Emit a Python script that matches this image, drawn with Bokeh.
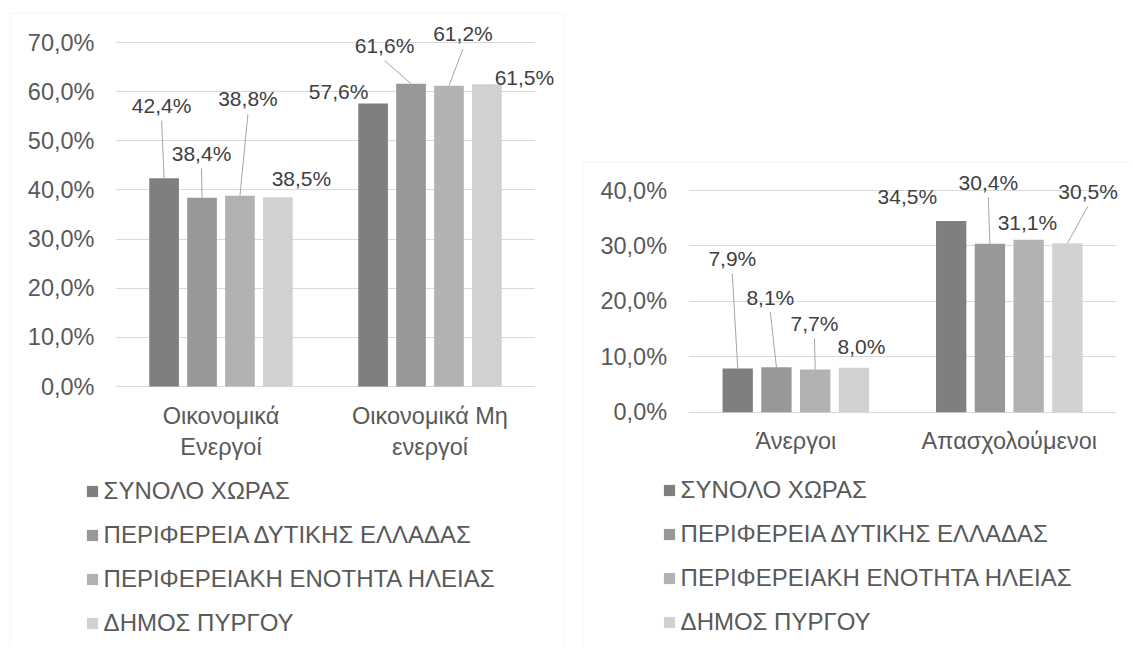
from bokeh.plotting import figure
from bokeh.models import (ColumnDataSource, Legend, LegendItem, BoxAnnotation,
                          FixedTicker, Range1d, LinearAxis)
from bokeh.core.properties import value
from bokeh.embed import file_html
from bokeh.resources import INLINE

# ---------------- data ----------------
series = ["ΣΥΝΟΛΟ ΧΩΡΑΣ", "ΠΕΡΙΦΕΡΕΙΑ ΔΥΤΙΚΗΣ ΕΛΛΑΔΑΣ",
          "ΠΕΡΙΦΕΡΕΙΑΚΗ ΕΝΟΤΗΤΑ ΗΛΕΙΑΣ", "ΔΗΜΟΣ ΠΥΡΓΟΥ"]

left_categories = ["Οικονομικά\nΕνεργοί", "Οικονομικά Μη\nενεργοί"]
left_total = [42.4, 57.6]
left_west = [38.4, 61.6]
left_ilia = [38.8, 61.2]
left_pyrgos = [38.5, 61.5]
left_ticks = [0, 10, 20, 30, 40, 50, 60, 70]
left_tick_labels = ["0,0%", "10,0%", "20,0%", "30,0%", "40,0%", "50,0%", "60,0%", "70,0%"]

right_categories = ["Άνεργοι", "Απασχολούμενοι"]
right_total = [7.9, 34.5]
right_west = [8.1, 30.4]
right_ilia = [7.7, 31.1]
right_pyrgos = [8.0, 30.5]
right_ticks = [0, 10, 20, 30, 40]
right_tick_labels = ["0,0%", "10,0%", "20,0%", "30,0%", "40,0%"]

# ---------------- style / layout ----------------
W, H = 1130, 645
colors = ["#7f7f7f", "#989898", "#b2b2b2", "#d1d1d1"]
FONT = "Liberation Sans"
AX_SIZE = "23.5px"
LEG_SIZE = "24px"
LBL_SIZE = "21px"
AX_COLOR = "#595959"
LBL_COLOR = "#404040"
GRID = "#d9d9d9"
LEADER = "#a6a6a6"
STEP = 0.1815
BAR_W = 0.142
ITEM_H = 26
ITEM_SP = 16

# label offsets in px (dx right, dy up) from the top centre of each bar; leader flags
left_label_dx = [[-2.5, -0.5, 8, 23.5], [-34.5, -26.5, 14, 37.5]]
left_label_dy = [[72.6, 44.3, 97, 19.1], [12.2, 38.3, 51.9, 6.5]]
left_leader = [[1, 1, 1, 0], [0, 1, 1, 0]]
right_label_dx = [[-5.4, -6.1, -0.7, 7.6], [-43.8, -1.6, -1.2, 20.7]]
right_label_dy = [[109.9, 70.1, 46.3, 21.4], [24.5, 61.5, 17.6, 52]]
right_leader = [[1, 1, 1, 0], [0, 1, 0, 1]]


def fmt(v):
    return f"{v:.1f}".replace(".", ",") + "%"


p = figure(width=W, height=H, x_range=Range1d(0, W), y_range=Range1d(H, 0),
           x_axis_location=None, y_axis_location=None, min_border=0,
           output_backend="svg", toolbar_location=None)
p.outline_line_color = None
p.background_fill_color = "white"
p.border_fill_color = "white"
for g in p.grid:
    g.visible = False

extra_x = {}
extra_y = {}


def add_chart(name, cats, vals, ticks, tick_labels, plot_l, plot_r, y0_px, ytop_px,
              label_dx, label_dy, leader, legend_left, legend_top, border):
    xn, yn = name + "_x", name + "_y"
    ux = 2.0 / (plot_r - plot_l)                # x data units per pixel
    ppp = (y0_px - ytop_px) / float(ticks[-1])  # pixels per percent
    extra_x[xn] = Range1d(-plot_l * ux, (W - plot_l) * ux)
    extra_y[yn] = Range1d(-(H - y0_px) / ppp, y0_px / ppp)

    yax = LinearAxis(x_range_name=xn, y_range_name=yn, fixed_location=0,
                     ticker=FixedTicker(ticks=ticks),
                     major_label_overrides={float(t): s for t, s in zip(ticks, tick_labels)},
                     axis_line_color=None, major_tick_in=int(round(plot_r - plot_l)),
                     major_tick_out=0, major_tick_line_color=GRID, major_tick_line_width=1,
                     minor_tick_line_color=None, major_label_standoff=22,
                     major_label_text_font=FONT, major_label_text_font_size=AX_SIZE,
                     major_label_text_color=AX_COLOR, level="underlay")
    p.add_layout(yax, "left")

    xax = LinearAxis(x_range_name=xn, y_range_name=yn, fixed_location=0,
                     ticker=FixedTicker(ticks=[0.5, 1.5]),
                     major_label_overrides={0.5: cats[0], 1.5: cats[1]},
                     axis_line_color=None, major_tick_line_color=None,
                     minor_tick_line_color=None, major_tick_in=0, major_tick_out=0,
                     major_label_standoff=16, major_label_orientation="horizontal",
                     major_label_text_font=FONT, major_label_text_font_size=AX_SIZE,
                     major_label_text_color=AX_COLOR)
    p.add_layout(xax, "below")

    items = []
    lx, ly, lt, ldx, ldy = [], [], [], [], []
    sx0, sy0, sx1, sy1 = [], [], [], []
    for i, (sname, col) in enumerate(zip(series, colors)):
        off = (i - 1.5) * STEP
        xs = [g + 0.5 + off for g in range(len(cats))]
        src = ColumnDataSource(dict(x=xs, top=vals[i]))
        r = p.vbar(x="x", top="top", bottom=0, width=BAR_W, source=src,
                   fill_color=col, line_color=None, x_range_name=xn, y_range_name=yn)
        items.append(LegendItem(label=sname, renderers=[r]))
        for g in range(len(cats)):
            v = vals[i][g]
            dx, dy = label_dx[g][i], label_dy[g][i]
            lx.append(xs[g]); ly.append(v); lt.append(fmt(v))
            ldx.append(dx); ldy.append(-dy)
            if leader[g][i]:
                sx0.append(xs[g] + dx * ux); sy0.append(v + (dy - 15) / ppp)
                sx1.append(xs[g]); sy1.append(v)

    p.segment(x0=sx0, y0=sy0, x1=sx1, y1=sy1, line_color=LEADER, line_width=1,
              x_range_name=xn, y_range_name=yn)
    p.text(x=lx, y=ly, text=lt, x_offset=ldx, y_offset=ldy, text_align="center",
           text_baseline="middle", text_font=value(FONT), text_font_size=LBL_SIZE,
           text_color=LBL_COLOR, x_range_name=xn, y_range_name=yn)

    leg_h = 4 * ITEM_H + 3 * ITEM_SP
    legend = Legend(items=items, location=(legend_left, H - legend_top - leg_h),
                    orientation="vertical", glyph_width=14, glyph_height=14,
                    label_height=ITEM_H, spacing=ITEM_SP, padding=0, margin=0,
                    border_line_color=None, background_fill_alpha=0, label_standoff=5,
                    label_text_font=FONT, label_text_font_size=LEG_SIZE,
                    label_text_color=AX_COLOR)
    p.add_layout(legend, "center")

    bl, bt = border
    p.add_layout(BoxAnnotation(left=bl, right=W + 10 if name == "right" else 563.5,
                               top=bt, bottom=H + 10, fill_alpha=0,
                               line_color=GRID, line_width=1))


add_chart("left", left_categories, [left_total, left_west, left_ilia, left_pyrgos],
          left_ticks, left_tick_labels, plot_l=116, plot_r=534, y0_px=386, ytop_px=42,
          label_dx=left_label_dx, label_dy=left_label_dy, leader=left_leader,
          legend_left=84.6, legend_top=485, border=(9.5, 12.5))
add_chart("right", right_categories, [right_total, right_west, right_ilia, right_pyrgos],
          right_ticks, right_tick_labels, plot_l=688.6, plot_r=1115.5, y0_px=411.7,
          ytop_px=190, label_dx=right_label_dx, label_dy=right_label_dy,
          leader=right_leader, legend_left=661.6, legend_top=484, border=(582.5, 161.5))

p.extra_x_ranges = extra_x
p.extra_y_ranges = extra_y

open("out.html", "w").write(file_html(p, INLINE))
